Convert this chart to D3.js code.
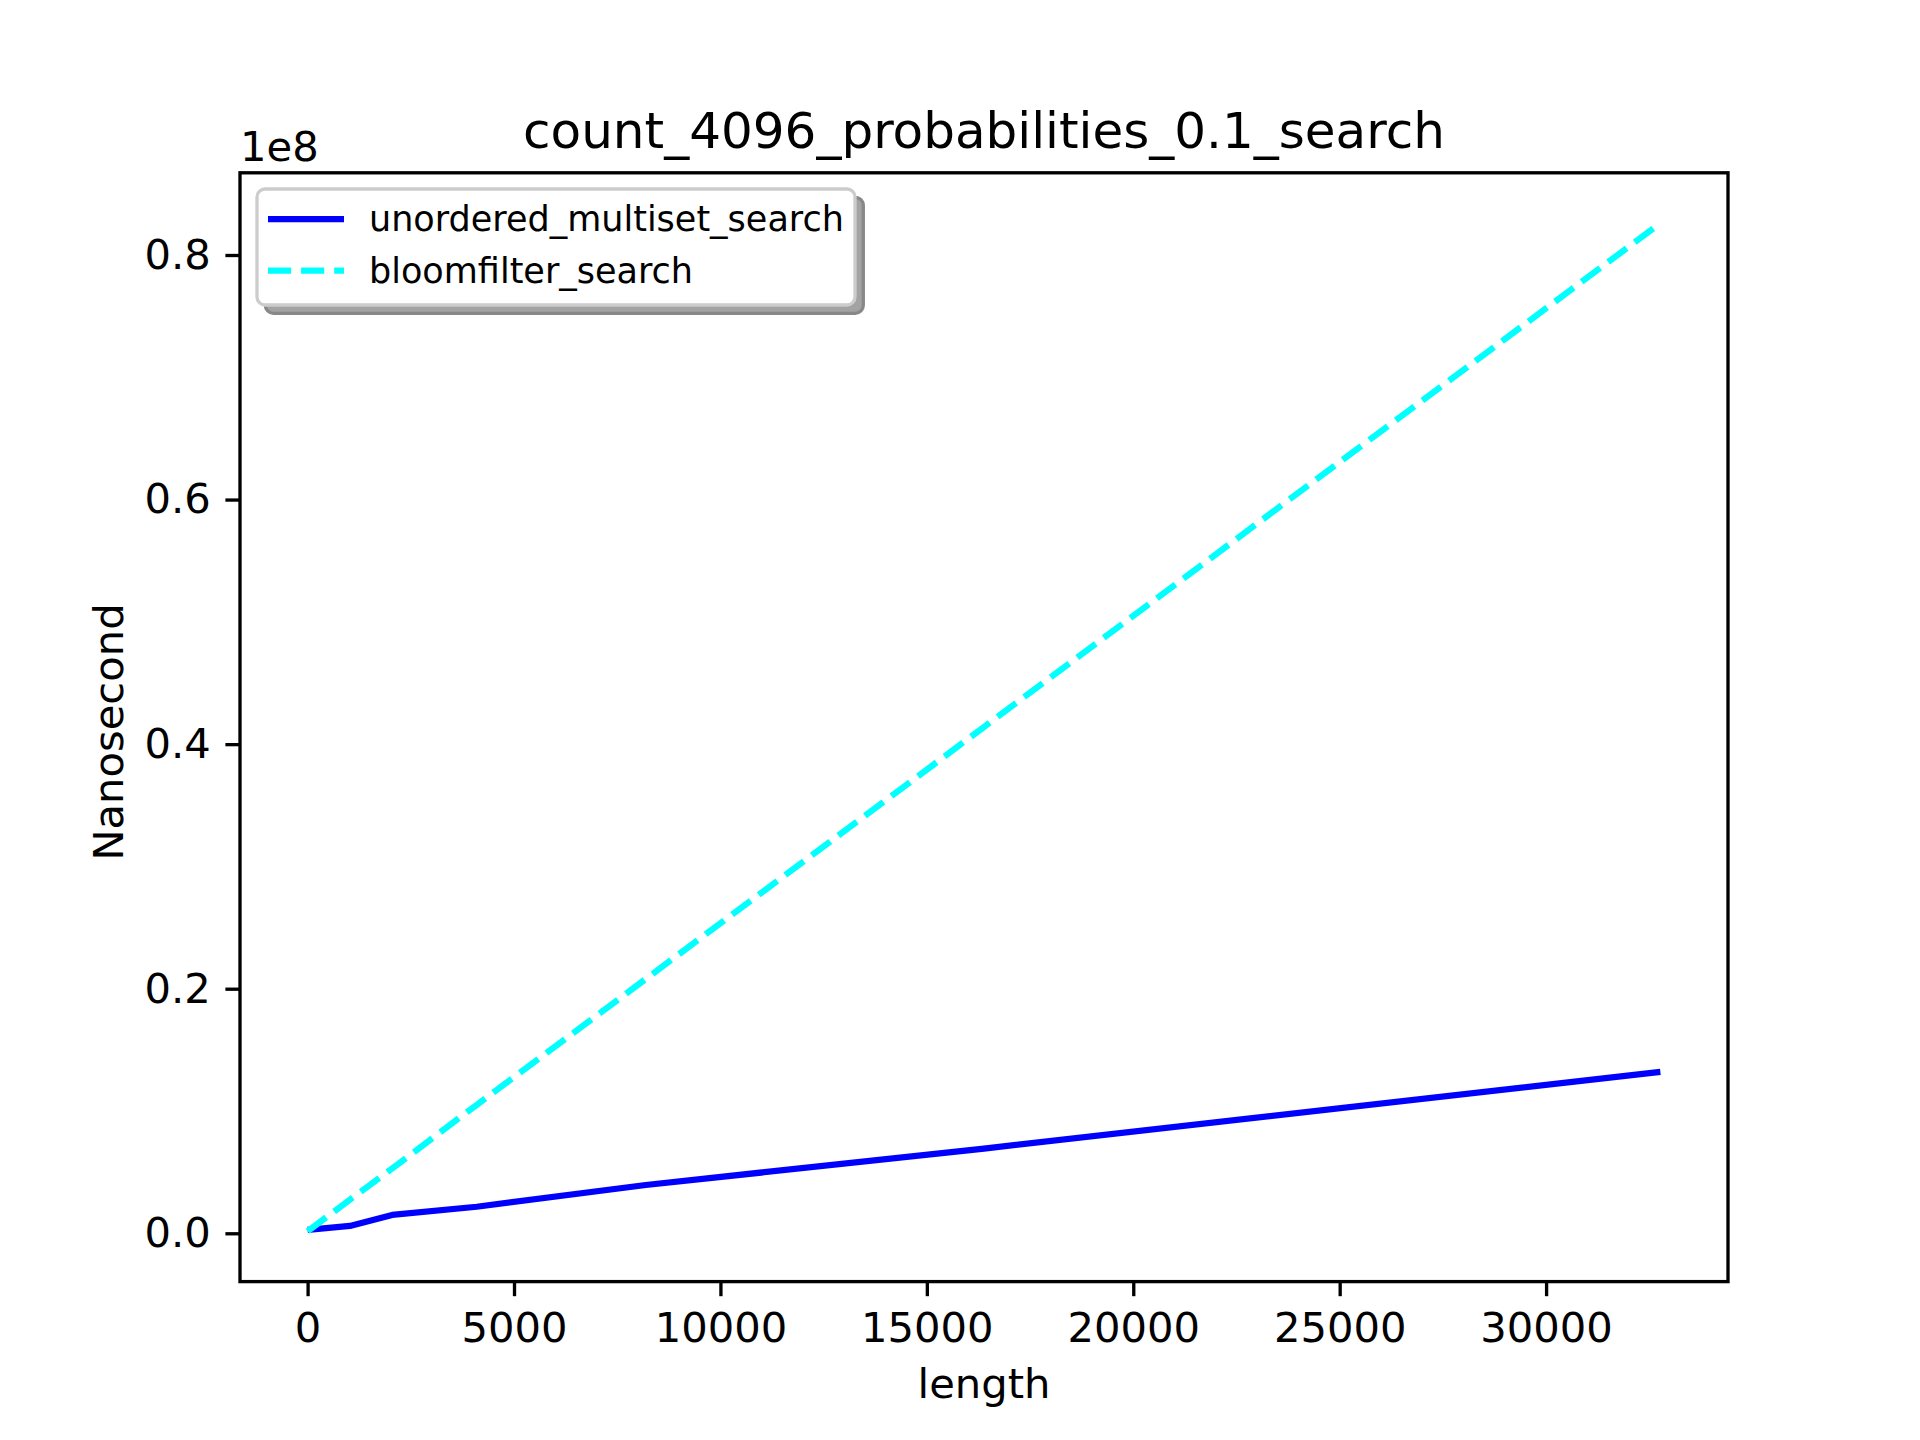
<!DOCTYPE html>
<html>
<head>
<meta charset="utf-8">
<script src="https://cdn.jsdelivr.net/npm/d3@7"></script>
<style>
  html, body { margin: 0; padding: 0; background: #fff; }
  svg { display: block; }
  text { font-family: "DejaVu Sans", sans-serif; fill: #000; }
</style>
</head>
<body>
<svg id="chart" width="1920" height="1440"></svg>
<script>
// ---- data (values in units of 1e8 nanoseconds) ----
const lengths = [1, 1024, 2048, 4096, 8192, 16384, 32768];
const unorderedMultisetSearch = [0.0027, 0.0060, 0.0150, 0.0217, 0.0395, 0.0693, 0.1320];
const bloomfilterSearch = [0.0017, 0.0275, 0.0530, 0.1050, 0.2080, 0.4140, 0.8260];
const seriesNames = ["unordered_multiset_search", "bloomfilter_search"];
const xTicks = [0, 5000, 10000, 15000, 20000, 25000, 30000];
const yTicks = [0.0, 0.2, 0.4, 0.6, 0.8];
const titleText = "count_4096_probabilities_0.1_search";

const W = 1920, H = 1440;
const margin = { left: 240, right: 1728, top: 172.8, bottom: 1281.6 };

const svg = d3.select("#chart");
svg.append("rect").attr("width", W).attr("height", H).attr("fill", "#fff");

function padded(ext) {
  const r = ext[1] - ext[0];
  return [ext[0] - 0.05 * r, ext[1] + 0.05 * r];
}
const xExt = d3.extent(lengths);
const yExt = d3.extent(unorderedMultisetSearch.concat(bloomfilterSearch));
const x = d3.scaleLinear().domain(padded(xExt)).range([margin.left, margin.right]);
const y = d3.scaleLinear().domain(padded(yExt)).range([margin.bottom, margin.top]);

const series = [
  { name: seriesNames[0], values: unorderedMultisetSearch, color: "#0000ff", dash: null },
  { name: seriesNames[1], values: bloomfilterSearch, color: "#00ffff", dash: "23.1,10" }
];

const clipId = "plotclip";
svg.append("clipPath").attr("id", clipId).append("rect")
  .attr("x", margin.left).attr("y", margin.top)
  .attr("width", margin.right - margin.left).attr("height", margin.bottom - margin.top);

const line = d3.line().x((d, i) => x(lengths[i])).y(d => y(d));
const plot = svg.append("g").attr("clip-path", `url(#${clipId})`);
series.forEach(s => {
  plot.append("path")
    .attr("d", line(s.values))
    .attr("fill", "none")
    .attr("stroke", s.color)
    .attr("stroke-width", 6.25)
    .attr("stroke-linecap", "butt")
    .attr("stroke-linejoin", "round")
    .attr("stroke-dasharray", s.dash);
});

// axes
const tickLen = 14.6, tickW = 3.33, fs = 41.67, legendFs = 35;
const xAxis = d3.axisBottom(x).tickValues(xTicks).tickFormat(d3.format("d")).tickSize(tickLen).tickPadding(14.6);
const yAxis = d3.axisLeft(y).tickValues(yTicks).tickFormat(d3.format(".1f")).tickSize(tickLen).tickPadding(14.6);

const gx = svg.append("g").attr("transform", `translate(0,${margin.bottom})`).call(xAxis);
const gy = svg.append("g").attr("transform", `translate(${margin.left},0)`).call(yAxis);
[gx, gy].forEach(g => {
  g.select(".domain").remove();
  g.selectAll(".tick line").attr("stroke", "#000").attr("stroke-width", tickW);
  g.selectAll(".tick text").attr("font-size", fs).attr("font-family", "DejaVu Sans").attr("fill", "#000");
});
gx.selectAll(".tick text").attr("dy", "0.76em");

// spines
svg.append("rect")
  .attr("x", margin.left).attr("y", margin.top)
  .attr("width", margin.right - margin.left).attr("height", margin.bottom - margin.top)
  .attr("fill", "none").attr("stroke", "#000").attr("stroke-width", tickW);

// offset text
svg.append("text").attr("x", margin.left).attr("y", 161)
  .attr("font-size", fs).text("1e8");

// title
svg.append("text").attr("x", (margin.left + margin.right) / 2).attr("y", 148)
  .attr("text-anchor", "middle").attr("font-size", 50).text(titleText);

// axis labels
svg.append("text").attr("x", (margin.left + margin.right) / 2).attr("y", 1398)
  .attr("text-anchor", "middle").attr("font-size", fs).text("length");
svg.append("text")
  .attr("transform", `translate(123,732) rotate(-90)`)
  .attr("text-anchor", "middle").attr("font-size", fs).text("Nanosecond");

// legend
const lg = svg.append("g");
const lx = 257, ly = 189, lw = 598, lh = 116;
lg.append("rect").attr("x", lx + 8.3).attr("y", ly + 8.3).attr("width", lw).attr("height", lh)
  .attr("rx", 8).attr("fill", "#a3a3a3").attr("stroke", "#888").attr("stroke-width", 3.3);
lg.append("rect").attr("x", lx).attr("y", ly).attr("width", lw).attr("height", lh)
  .attr("rx", 8).attr("fill", "#fff").attr("stroke", "#cccccc").attr("stroke-width", 3.3);
series.forEach((s, i) => {
  const cy = 219 + i * 51.7;
  lg.append("line").attr("x1", 268).attr("x2", 344).attr("y1", cy).attr("y2", cy)
    .attr("stroke", s.color).attr("stroke-width", 6.25).attr("stroke-dasharray", s.dash);
  lg.append("text").attr("x", 369).attr("y", cy).attr("dy", "0.35em")
    .attr("font-size", legendFs).text(s.name);
});
</script>
</body>
</html>
